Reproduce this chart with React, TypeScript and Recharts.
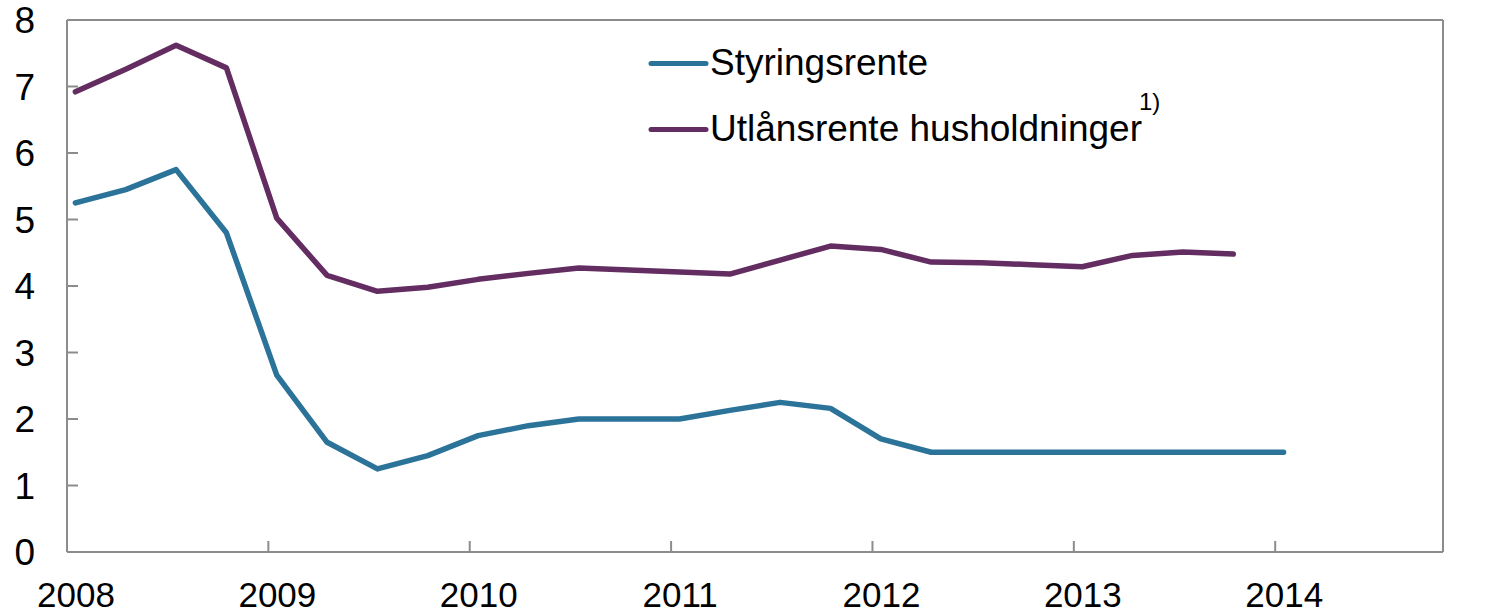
import React from 'react';
import { LineChart, Line, XAxis, YAxis, Legend, ReferenceLine } from 'recharts';

const quarters = [
  '2008K1','2008K2','2008K3','2008K4','2009K1','2009K2','2009K3','2009K4',
  '2010K1','2010K2','2010K3','2010K4','2011K1','2011K2','2011K3','2011K4',
  '2012K1','2012K2','2012K3','2012K4','2013K1','2013K2','2013K3','2013K4','2014K1',
];
const styringsrente = [5.25, 5.45, 5.75, 4.8, 2.66, 1.65, 1.25, 1.45, 1.75, 1.9, 2.0, 2.0, 2.0, 2.13, 2.25, 2.16, 1.7, 1.5, 1.5, 1.5, 1.5, 1.5, 1.5, 1.5, 1.5];
const utlansrente = [6.92, 7.26, 7.62, 7.28, 5.02, 4.16, 3.92, 3.98, 4.1, 4.19, 4.27, 4.24, 4.21, 4.18, 4.39, 4.6, 4.55, 4.36, 4.35, 4.32, 4.29, 4.46, 4.51, 4.48];
const yearTicks = [2008, 2009, 2010, 2011, 2012, 2013, 2014];
const yTicks = [0, 1, 2, 3, 4, 5, 6, 7, 8];

// quarter label -> decimal year (middle of first month of quarter)
const toYear = (q: string) => {
  const y = parseInt(q.slice(0, 4), 10);
  const k = parseInt(q.slice(5), 10);
  return y + ((k - 1) * 3 + 0.5) / 12;
};

const data = quarters.map((q, i) => ({
  t: toYear(q),
  s: styringsrente[i],
  u: i < utlansrente.length ? utlansrente[i] : null,
}));

const FONT = '"Liberation Sans", Arial, sans-serif';
const AXIS = '#8c8c8c';
const BLUE = '#2B7399';
const PURPLE = '#632D62';

const LeftTick = (p: any) => (
  <text x={p.x} y={p.y} dy="0.355em" textAnchor="end" fontFamily={FONT} fontSize={37} fill="#000">
    {p.payload.value}
  </text>
);
const RightTick = (p: any) => (
  <text x={p.x} y={p.y} dy="0.355em" textAnchor="start" fontFamily={FONT} fontSize={37} fill="#000">
    {p.payload.value}
  </text>
);
const BottomTick = (p: any) => (
  <text x={p.x + 9} y={p.y} dy="0.71em" textAnchor="middle" fontFamily={FONT} fontSize={35} fill="#000">
    {p.payload.value}
  </text>
);

const LegendContent = (props: any) => {
  const payload = props.payload || [];
  return (
    <svg width={560} height={130} style={{ overflow: 'visible' }}>
      {payload.map((e: any, i: number) => {
        const base = 45 + i * 66;
        return (
          <g key={i}>
            <line x1={11} x2={66} y1={base - 11.5} y2={base - 11.5} stroke={e.color} strokeWidth={5} strokeLinecap="round" />
            <text x={70} y={base} fontFamily={FONT} fontSize={37} fill="#000">
              {e.value}
              {i === 1 ? (
                <tspan dx={-3} dy={-31} fontSize={24}>1)</tspan>
              ) : null}
            </text>
          </g>
        );
      })}
    </svg>
  );
};

export default function App() {
  return (
    <div style={{ position: 'absolute', left: 0, top: 0 }}>
      <LineChart width={1503} height={615} data={data} margin={{ top: 20, right: 0, bottom: 0, left: 0 }}>
        <XAxis
          dataKey="t"
          type="number"
          domain={[2008, 2008 + 82 / 12]}
          ticks={yearTicks}
          height={63}
          axisLine={{ stroke: AXIS, strokeWidth: 2 }}
          tickLine={{ stroke: AXIS, strokeWidth: 2 }}
          tickSize={-11}
          tickMargin={41}
          tick={<BottomTick />}
          interval={0}
          allowDataOverflow
        />
        <YAxis
          yAxisId="left"
          orientation="left"
          domain={[0, 8]}
          ticks={yTicks}
          width={67}
          axisLine={{ stroke: AXIS, strokeWidth: 2 }}
          tickLine={{ stroke: AXIS, strokeWidth: 2 }}
          tickSize={-11}
          tickMargin={43}
          tick={<LeftTick />}
          interval={0}
        />
        <YAxis
          yAxisId="right"
          orientation="right"
          domain={[0, 8]}
          ticks={yTicks}
          width={60}
          axisLine={{ stroke: AXIS, strokeWidth: 2 }}
          tickLine={{ stroke: AXIS, strokeWidth: 2 }}
          tickSize={-11}
          tickMargin={43}
          tick={<RightTick />}
          interval={0}
        />
        <ReferenceLine yAxisId="left" y={8} stroke={AXIS} strokeWidth={2} />
        <Legend
          layout="horizontal"
          verticalAlign="middle"
          align="center"
          wrapperStyle={{ left: 640, top: 30, width: 560, height: 130 }}
          content={<LegendContent />}
        />
        <Line
          yAxisId="left"
          type="linear"
          dataKey="s"
          name="Styringsrente"
          stroke={BLUE}
          strokeWidth={5.5}
          strokeLinecap="round"
          strokeLinejoin="round"
          dot={false}
          activeDot={false}
          isAnimationActive={false}
          connectNulls={false}
        />
        <Line
          yAxisId="left"
          type="linear"
          dataKey="u"
          name="Utlånsrente husholdninger"
          stroke={PURPLE}
          strokeWidth={5.5}
          strokeLinecap="round"
          strokeLinejoin="round"
          dot={false}
          activeDot={false}
          isAnimationActive={false}
          connectNulls={false}
        />
      </LineChart>
    </div>
  );
}
